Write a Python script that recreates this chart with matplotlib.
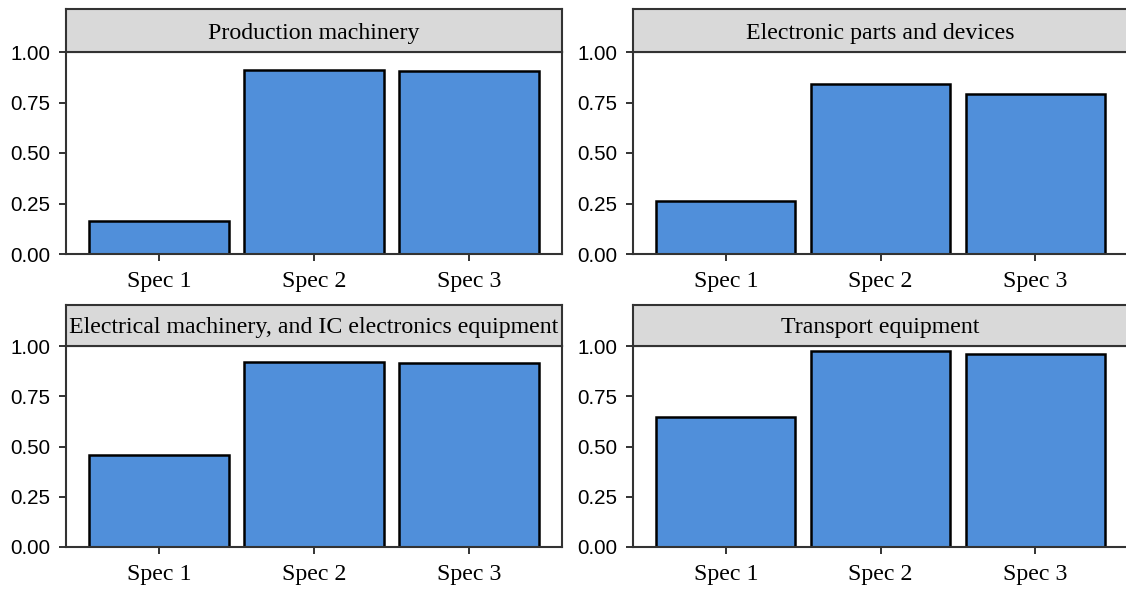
import matplotlib
matplotlib.use("Agg")
from matplotlib import pyplot as plt

# Share of each spec per industry.
categories = ["Spec 1", "Spec 2", "Spec 3"]
panel_titles = ["Production machinery",
                "Electronic parts and devices",
                "Electrical machinery, and IC electronics equipment",
                "Transport equipment"]
production = [0.163, 0.911, 0.906]
electronic = [0.262, 0.842, 0.792]
electrical = [0.458, 0.920, 0.915]
transport = [0.647, 0.975, 0.960]
y_ticks = [0.00, 0.25, 0.50, 0.75, 1.00]

series = [production, electronic, electrical, transport]

W, H = 1126, 590
fig = plt.figure(figsize=(W / 100, H / 100), dpi=100)

# Panel boxes in pixels: left, top, right, bottom; strip top.
boxes = [(66, 52, 562, 254, 9),
         (633, 52, 1128, 254, 9),
         (66, 346, 562, 547, 305),
         (633, 346, 1128, 547, 305)]

edge = '#333333'
for title, values, (l, t, r, b, st) in zip(panel_titles, series, boxes):
    ax = fig.add_axes([l / W, 1 - b / H, (r - l) / W, (b - t) / H])
    x = range(1, len(categories) + 1)
    ax.bar(x, values, width=0.9, color='#508FDA', edgecolor='black',
           linewidth=1.8, zorder=2)
    ax.set_xlim(0.4, 3.6)
    ax.set_ylim(0, 1)
    ax.set_xticks(list(x))
    ax.set_xticklabels(categories, family='Liberation Serif', fontsize=17.2)
    ax.set_yticks(y_ticks)
    ax.set_yticklabels([f"{v:.2f}" for v in y_ticks],
                       family='Liberation Sans', fontsize=14.8)
    ax.tick_params(axis='both', length=5, width=1.4, color=edge)
    ax.tick_params(axis='y', pad=6.5)
    ax.tick_params(axis='x', pad=7.5)
    for side in ['left', 'right', 'bottom', 'top']:
        ax.spines[side].set_color(edge)
        ax.spines[side].set_linewidth(1.5)
        ax.spines[side].set_zorder(3)

    # Facet strip above the panel.
    sax = fig.add_axes([l / W, 1 - t / H, (r - l) / W, (t - st) / H])
    sax.set_facecolor('#D9D9D9')
    sax.set_xticks([])
    sax.set_yticks([])
    for side in sax.spines.values():
        side.set_color(edge)
        side.set_linewidth(1.5)
    sax.text(0.5, 0.5, title, ha='center', va='center_baseline',
             family='Liberation Serif', fontsize=17.2,
             transform=sax.transAxes)

fig.savefig('out.png', dpi=100, facecolor='white')
